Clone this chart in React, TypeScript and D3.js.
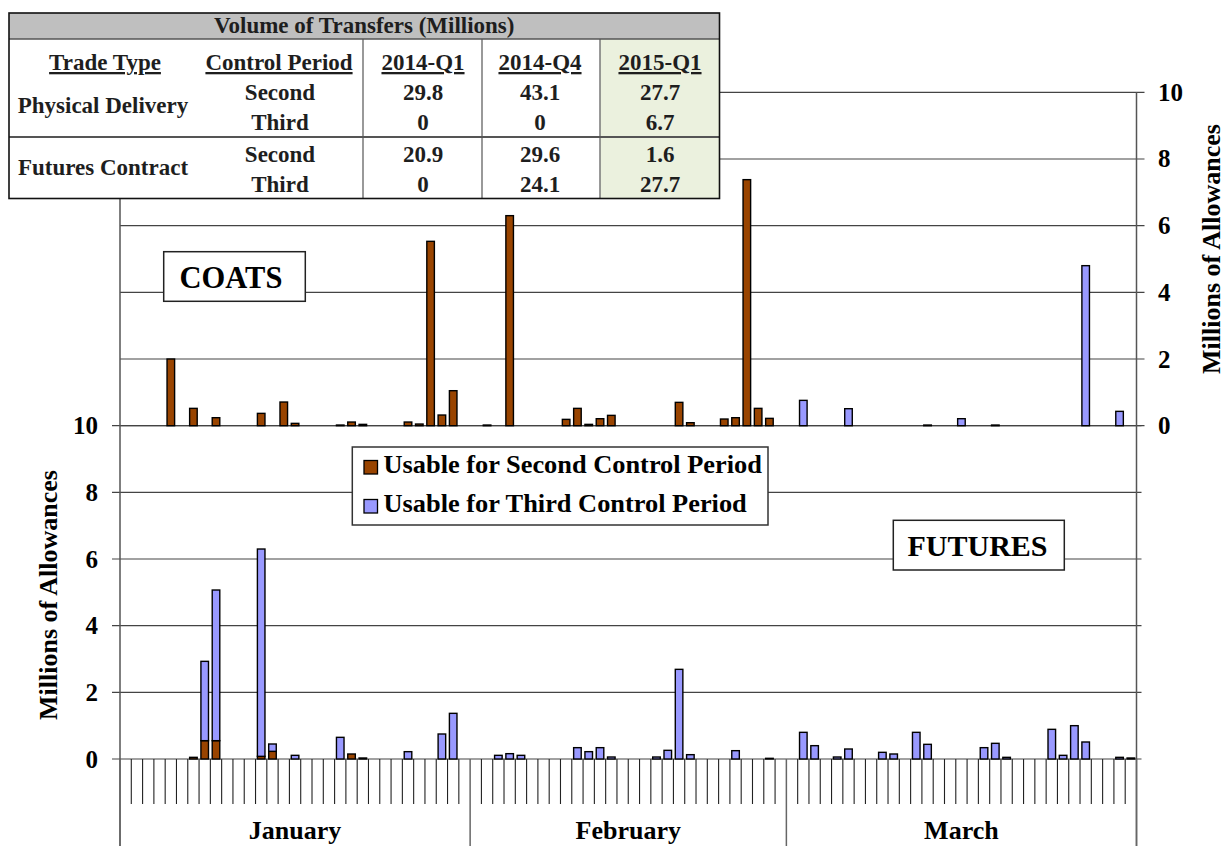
import React from 'react';
import * as d3 from 'd3';

// ---------- DATA ----------
const monthNames = ['January', 'February', 'March'];
const monthDays = [31, 28, 31];
const yTicks = [0, 2, 4, 6, 8, 10];

// COATS (top panel), millions of allowances per calendar day, Jan 1 .. Mar 31
const coatsSecond = [
  0, 0, 0, 0, 2.0, 0, 0.52, 0, 0.24, 0,
  0, 0, 0.37, 0, 0.71, 0.07, 0, 0, 0, 0.02,
  0.11, 0.04, 0, 0, 0, 0.11, 0.05, 5.53, 0.32, 1.05,
  0, 0, 0.02, 0, 6.3, 0, 0, 0, 0, 0.19,
  0.52, 0.04, 0.21, 0.31, 0, 0, 0, 0, 0, 0.7,
  0.09, 0, 0, 0.2, 0.24, 7.38, 0.52, 0.22, 0, 0,
  0, 0, 0, 0, 0, 0, 0, 0, 0, 0,
  0, 0.02, 0, 0, 0, 0, 0, 0.02, 0, 0,
  0, 0, 0, 0, 0, 0, 0, 0, 0, 0,
];
const coatsThird = [
  0, 0, 0, 0, 0, 0, 0, 0, 0, 0,
  0, 0, 0, 0, 0, 0, 0, 0, 0, 0,
  0, 0, 0, 0, 0, 0, 0, 0, 0, 0,
  0, 0, 0, 0, 0, 0, 0, 0, 0, 0,
  0, 0, 0, 0, 0, 0, 0, 0, 0, 0,
  0, 0, 0, 0, 0, 0, 0, 0, 0, 0,
  0.76, 0, 0, 0, 0.51, 0, 0, 0, 0, 0,
  0, 0, 0, 0, 0.21, 0, 0, 0, 0, 0,
  0, 0, 0, 0, 0, 4.8, 0, 0, 0.43, 0,
];
// FUTURES (bottom panel, stacked)
const futuresSecond = [
  0, 0, 0, 0, 0, 0, 0.05, 0.55, 0.55, 0,
  0, 0, 0.08, 0.23, 0, 0, 0, 0, 0, 0,
  0.15, 0.03, 0, 0, 0, 0, 0, 0, 0, 0,
  0, 0, 0, 0, 0, 0, 0, 0, 0, 0,
  0, 0, 0, 0, 0, 0, 0, 0, 0, 0,
  0, 0, 0, 0, 0, 0, 0, 0, 0, 0,
  0, 0, 0, 0, 0, 0, 0, 0, 0, 0,
  0, 0, 0, 0, 0, 0, 0, 0, 0, 0,
  0, 0, 0, 0, 0, 0, 0, 0, 0, 0,
];
const futuresThird = [
  0, 0, 0, 0, 0, 0, 0, 2.38, 4.52, 0,
  0, 0, 6.22, 0.22, 0, 0.11, 0, 0, 0, 0.65,
  0, 0, 0, 0, 0, 0.22, 0, 0, 0.75, 1.37,
  0, 0, 0, 0.11, 0.16, 0.11, 0, 0, 0, 0,
  0.34, 0.22, 0.34, 0.06, 0, 0, 0, 0.06, 0.26, 2.69,
  0.13, 0, 0, 0, 0.25, 0, 0, 0.02, 0, 0,
  0.8, 0.4, 0, 0.06, 0.3, 0, 0, 0.2, 0.15, 0,
  0.8, 0.44, 0, 0, 0, 0, 0.34, 0.47, 0.05, 0,
  0, 0, 0.89, 0.11, 1.0, 0.51, 0, 0, 0.05, 0.03,
];

const legendLabels = ['Usable for Second Control Period', 'Usable for Third Control Period'];
const panelLabels = ['COATS', 'FUTURES'];
const axisTitle = 'Millions of Allowances';

const tableTitle = 'Volume of Transfers (Millions)';
const tableHeaders = ['Trade Type', 'Control Period', '2014-Q1', '2014-Q4', '2015-Q1'];
const tradeTypes = ['Physical Delivery', 'Futures Contract'];
const periods = ['Second', 'Third'];
const tableValues = [
  ['29.8', '43.1', '27.7'],
  ['0', '0', '6.7'],
  ['20.9', '29.6', '1.6'],
  ['0', '24.1', '27.7'],
];

// ---------- STYLE ----------
const BROWN = '#994400';
const BLUE = '#9999FF';
const GRID = '#444';
const FONT = "'Liberation Serif', 'DejaVu Serif', serif";

export default function App() {
  const W = 1225, H = 846;
  const xL = 120, xR = 1136.5;
  const topY0 = 425.7, topY10 = 92.3;
  const botY0 = 759, botY10 = 425.7;
  const tickBottom = 804;

  const days = d3.range(monthDays.reduce((a, b) => a + b, 0));
  const x = d3.scaleBand<number>().domain(days).range([xL, xR]).paddingInner(0.33).paddingOuter(0.165);
  const step = x.step();
  const yTop = d3.scaleLinear().domain([0, 10]).range([topY0, topY10]);
  const yBot = d3.scaleLinear().domain([0, 10]).range([botY0, botY10]);

  const futRows = days.map((i) => ({ i, second: futuresSecond[i], third: futuresThird[i] }));
  const stacked = d3.stack<any>().keys(['second', 'third'])(futRows);
  const colors = [BROWN, BLUE];

  const monthStarts: number[] = [];
  monthDays.reduce((acc, d) => { monthStarts.push(acc); return acc + d; }, 0);

  const barStroke = { stroke: '#000', strokeWidth: 1.4 };
  const txt = (size: number, extra: any = {}) => ({ style: { fontFamily: FONT, fontWeight: 700, fontSize: size, ...extra } });

  // table geometry
  const tL = 9, tR = 719.5, tT = 13, tB = 198.5, tHead = 39;
  const colLines = [363, 482, 600];
  const colCenters = [105, 279, 423, 540, 660];
  const rowBase = [100, 130, 162, 192];
  const groupBase = [113, 175];
  const tFill = '#1e1e1e';

  return (
    <svg width={W} height={H} style={{ position: 'absolute', left: 0, top: 0, background: '#fff' }}>
      <rect x={0} y={0} width={W} height={H} fill="#fff" />

      {/* gridlines: top panel */}
      {yTicks.map((t) => (
        <line key={'gt' + t} x1={xL} x2={xR + 8} y1={yTop(t)} y2={yTop(t)} stroke={GRID} strokeWidth={1.2} />
      ))}
      {/* gridlines: bottom panel */}
      {yTicks.map((t) => (
        <line key={'gb' + t} x1={xL - 8} x2={xR + 5} y1={yBot(t)} y2={yBot(t)} stroke={GRID} strokeWidth={1.2} />
      ))}

      {/* axes */}
      <line x1={xL} x2={xL} y1={topY10} y2={H} stroke="#555" strokeWidth={1.5} />
      <line x1={xR} x2={xR} y1={topY10} y2={H} stroke="#555" strokeWidth={1.5} />

      {/* day separators */}
      {d3.range(days.length + 1).map((k) => {
        const xx = xL + k * step;
        const isMonth = monthStarts.includes(k) || k === days.length;
        return (
          <line key={'d' + k} x1={xx} x2={xx} y1={botY0} y2={isMonth ? H : tickBottom}
            stroke={isMonth ? '#666' : '#222'} strokeWidth={isMonth ? 1.5 : 1.1} />
        );
      })}

      {/* month labels */}
      {monthNames.map((m, k) => {
        const cx = xL + (monthStarts[k] + monthDays[k] / 2) * step;
        return (
          <text key={m} x={cx} y={839} textAnchor="middle" {...txt(26)}>{m}</text>
        );
      })}

      {/* right axis labels (top panel) */}
      {yTicks.map((t) => (
        <text key={'rl' + t} x={1158} y={yTop(t) + 8.5} {...txt(25)}>{t}</text>
      ))}
      {/* left axis labels (bottom panel) */}
      {yTicks.map((t) => (
        <text key={'ll' + t} x={98} y={yBot(t) + 8.5} textAnchor="end" {...txt(25)}>{t}</text>
      ))}

      {/* axis titles */}
      <text transform={`translate(1220,249) rotate(-90)`} textAnchor="middle" {...txt(26)}>{axisTitle}</text>
      <text transform={`translate(57,595) rotate(-90)`} textAnchor="middle" {...txt(26)}>{axisTitle}</text>

      {/* COATS bars */}
      {days.map((i) => coatsSecond[i] > 0 ? (
        <rect key={'cs' + i} x={x(i)} width={x.bandwidth()} y={yTop(coatsSecond[i])} height={yTop(0) - yTop(coatsSecond[i])} fill={BROWN} {...barStroke} />
      ) : null)}
      {days.map((i) => coatsThird[i] > 0 ? (
        <rect key={'ct' + i} x={x(i)} width={x.bandwidth()} y={yTop(coatsThird[i])} height={yTop(0) - yTop(coatsThird[i])} fill={BLUE} {...barStroke} />
      ) : null)}

      {/* FUTURES stacked bars */}
      {stacked.map((layer, li) => layer.map((d, j) => {
        const v = d[1] - d[0];
        if (v <= 0) return null;
        return (
          <rect key={'f' + li + '-' + j} x={x(futRows[j].i)} width={x.bandwidth()} y={yBot(d[1])} height={yBot(d[0]) - yBot(d[1])} fill={colors[li]} {...barStroke} />
        );
      }))}

      {/* COATS label */}
      <rect x={163.7} y={251.7} width={141.6} height={49.6} fill="#fff" stroke="#222" strokeWidth={1.5} />
      <text x={231} y={288} textAnchor="middle" {...txt(30.5)}>{panelLabels[0]}</text>

      {/* FUTURES label */}
      <rect x={893.3} y={520.3} width={171} height={49.7} fill="#fff" stroke="#222" strokeWidth={1.5} />
      <text x={977.5} y={556} textAnchor="middle" {...txt(30)}>{panelLabels[1]}</text>

      {/* legend */}
      <rect x={352.3} y={447} width={415.7} height={78} fill="#fff" stroke="#333" strokeWidth={1.5} />
      {legendLabels.map((l, k) => (
        <g key={l}>
          <rect x={364} y={460.5 + k * 39} width={13.5} height={13.5} fill={colors[k]} stroke="#000" strokeWidth={1.3} />
          <text transform={`translate(383.5,${473 + k * 39}) scale(1.055,1)`} {...txt(25)}>{l}</text>
        </g>
      ))}

      {/* summary table */}
      <rect x={tL} y={tT} width={tR - tL} height={tB - tT} fill="#fff" />
      <rect x={tL} y={tT} width={tR - tL} height={tHead - tT} fill="#bfbfbf" />
      <rect x={colLines[2]} y={tHead} width={tR - colLines[2]} height={tB - tHead} fill="#ebf1de" />
      {colLines.map((c) => (
        <line key={'cl' + c} x1={c} x2={c} y1={tHead} y2={tB} stroke="#777" strokeWidth={1.5} />
      ))}
      <line x1={tL} x2={tR} y1={tHead} y2={tHead} stroke="#555" strokeWidth={1.5} />
      <line x1={tL} x2={tR} y1={137} y2={137} stroke="#555" strokeWidth={1.8} />
      <rect x={tL} y={tT} width={tR - tL} height={tB - tT} fill="none" stroke="#111" strokeWidth={1.6} />

      <text x={(tL + tR) / 2} y={33} textAnchor="middle" fill={tFill} {...txt(23)}>{tableTitle}</text>
      {tableHeaders.map((h, k) => (
        <text key={h} x={colCenters[k]} y={70} textAnchor="middle" fill={tFill} {...txt(23, { textDecoration: 'underline' })}>{h}</text>
      ))}
      {tradeTypes.map((t, g) => (
        <text key={t} x={103} y={groupBase[g]} textAnchor="middle" fill={tFill} {...txt(23)}>{t}</text>
      ))}
      {rowBase.map((yb, r) => (
        <g key={'row' + r}>
          <text x={280} y={yb} textAnchor="middle" fill={tFill} {...txt(23)}>{periods[r % 2]}</text>
          {tableValues[r].map((v, c) => (
            <text key={c} x={colCenters[c + 2]} y={yb} textAnchor="middle" fill={tFill} {...txt(23)}>{v}</text>
          ))}
        </g>
      ))}
    </svg>
  );
}
